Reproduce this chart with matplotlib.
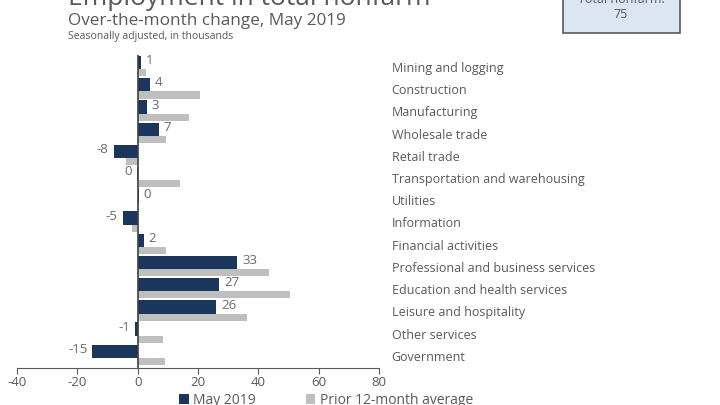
import matplotlib
matplotlib.use("Agg")
import matplotlib.pyplot as plt
from matplotlib.patches import Rectangle

plt.rcParams['font.family'] = ['Open Sans', 'DejaVu Sans']

categories = ["Mining and logging", "Construction", "Manufacturing", "Wholesale trade",
              "Retail trade", "Transportation and warehousing", "Utilities", "Information",
              "Financial activities", "Professional and business services",
              "Education and health services", "Leisure and hospitality",
              "Other services", "Government"]
may_2019 = [1, 4, 3, 7, -8, -0.3, 0.4, -5, 2, 33, 27, 26, -1, -15]
prior_avg = [2.7, 20.7, 17, 9.3, -4, 14, 0, -2, 9.3, 43.4, 50.4, 36.3, 8.4, 9.1]
xticks = [-40, -20, 0, 20, 40, 60, 80]

navy = "#1b365d"
grey = "#bfbfbf"
txt = "#595959"

fig = plt.figure(figsize=(7.2, 4.05), dpi=100)
ax = fig.add_axes([17/720, 1-368/405, (379-17)/720, (368-55)/405])

y = list(range(len(categories)))
ax.barh([i - 0.2 for i in y], may_2019, height=0.6, color=navy, label="May 2019", zorder=3)
ax.barh([i + 0.26 for i in y], prior_avg, height=0.32, color=grey,
        label="Prior 12-month average", zorder=2)

for i, v in enumerate(may_2019):
    s = str(int(round(v)))
    if v >= 0:
        ax.text(v + 1.6, i - 0.28, s, ha='left', va='center', color="#6b6b6b", fontsize=9.5)
    else:
        ax.text(v - 1.6, i - 0.28, s, ha='right', va='center', color="#6b6b6b", fontsize=9.5)

ax.set_xlim(-40, 80)
ax.set_ylim(13.55, -0.54)
ax.set_xticks(xticks)
ax.set_xticklabels([str(t) for t in xticks], color=txt, fontsize=9.5)
ax.tick_params(axis='x', length=4, color=txt, pad=2)
ax.set_yticks(y)
ax.set_yticklabels(categories, color=txt, fontsize=9)
ax.yaxis.tick_right()
ax.tick_params(axis='y', length=0, pad=9)
for s in ['top', 'right', 'left']:
    ax.spines[s].set_visible(False)
ax.spines['bottom'].set_color(txt)
ax.axvline(0, color="#404040", lw=1.2, zorder=4)

fig.text(68/720, 1-5/405, "Employment in total nonfarm", fontsize=19, color=txt,
         va='baseline', ha='left')
fig.text(68/720, 1-25/405, "Over-the-month change, May 2019", fontsize=12.3, color=txt,
         va='baseline', ha='left')
fig.text(68/720, 1-39/405, "Seasonally adjusted, in thousands", fontsize=7.5, color=txt,
         va='baseline', ha='left')

box = Rectangle((563/720, 1-33/405), (680-563)/720, 40/405, transform=fig.transFigure,
                facecolor="#dce6f2", edgecolor="#595959", lw=1.2)
fig.add_artist(box)
fig.text(621/720, 1-3/405, "Total nonfarm:", fontsize=9, color=txt, ha='center', va='baseline')
fig.text(621/720, 1-18/405, "75", fontsize=9, color=txt, ha='center', va='baseline')

fig.legend(loc='upper center', bbox_to_anchor=(326/720, 1-393/405), ncol=2, frameon=False,
           fontsize=10, handlelength=0.7, handleheight=0.7, handletextpad=0.3,
           columnspacing=3.6, labelcolor=txt, borderaxespad=0, borderpad=0)

fig.savefig("out.png", dpi=100)
